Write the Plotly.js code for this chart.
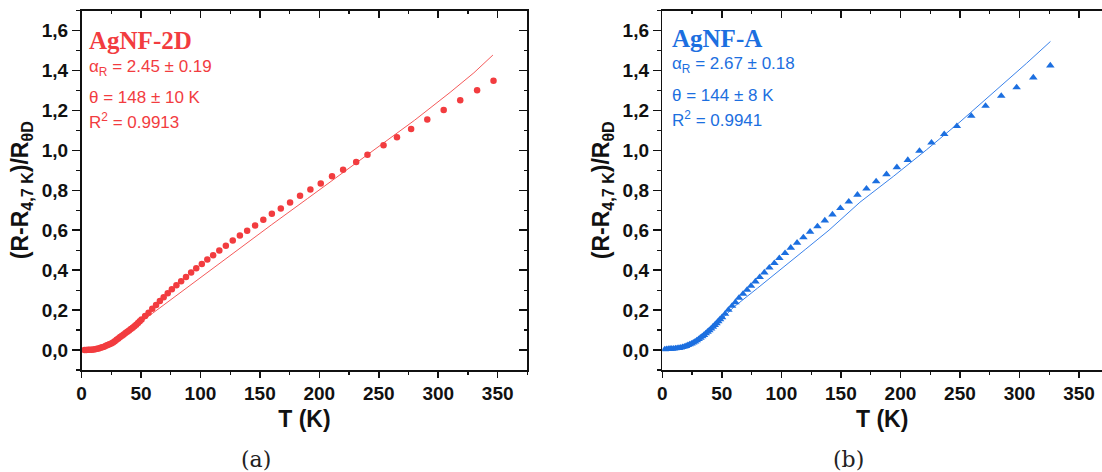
<!DOCTYPE html>
<html>
<head>
<meta charset="utf-8">
<script src="https://cdn.plot.ly/plotly-3.0.1.min.js"></script>
<style>html,body{margin:0;padding:0;background:#fff;}#chart{width:1102px;height:472px;}</style>
</head>
<body>
<div id="chart"></div>
<script>
// ---- Data ----
const redT = [2.5,4,5.5,7,8.5,10,11.5,13,14.5,16,17.5,19,20.5,22,23.5,25,26.5,28,29.5,31,32.5,34,35.5,37,38.5,40,41.5,43,44.5,46,47.5,49,50.5,
  53.5,56.4,59.5,62.7,65.9,69.1,72.5,76,79.8,83.8,87.9,92.2,96.5,101.2,105.8,110.7,115.9,121.4,127.2,133.2,139.3,146,152.9,160.1,167.6,175.4,183.8,192.5,201.2,210.7,220,231,240.5,254,265.3,277.2,290.8,304.6,318.5,332.7,346.5];
const redV = [0.000,0.000,0.001,0.001,0.002,0.003,0.004,0.006,0.008,0.011,0.014,0.017,0.021,0.025,0.029,0.033,0.038,0.044,0.051,0.058,0.065,0.072,0.078,0.085,0.091,0.098,0.105,0.112,0.119,0.127,0.135,0.144,0.153,
  0.171,0.187,0.207,0.226,0.246,0.264,0.284,0.304,0.324,0.344,0.366,0.388,0.410,0.431,0.453,0.475,0.498,0.522,0.548,0.574,0.597,0.624,0.652,0.682,0.709,0.739,0.773,0.804,0.834,0.870,0.903,0.941,0.978,1.025,1.065,1.107,1.154,1.202,1.251,1.301,1.348];
const redFitT = [0,10,20,30,40,46,60,80,100,130,160,190,220,250,280,310,330,346];
const redFitV = [0,0.002,0.015,0.045,0.090,0.122,0.185,0.274,0.363,0.497,0.628,0.758,0.890,1.020,1.150,1.290,1.388,1.477];

const blueT = [2,3.5,5,6.5,8,9.5,11,12.5,14,15.5,17,18.5,20,21.5,23,24.5,26,27.5,29,30.5,32,33.5,35,36.5,38,39.5,41,42.5,44,45.5,47,48.5,
  50.2,52.7,55.5,58.6,61.4,64.4,67.8,71.2,74.5,78.2,81.8,85.7,89.9,94.1,98.3,103.1,107.9,113.2,118.5,124.1,130.3,136.5,142.9,149.6,156.6,163.9,171.5,179.6,188.3,197,206.2,216,226.1,236.8,247.4,259.5,271.5,284.7,297.6,311.6,325.9];
const blueV = [0.003,0.004,0.005,0.006,0.006,0.007,0.008,0.009,0.010,0.012,0.014,0.017,0.020,0.024,0.028,0.032,0.037,0.042,0.048,0.054,0.061,0.068,0.075,0.083,0.091,0.099,0.107,0.116,0.125,0.134,0.144,0.154,
  0.164,0.181,0.201,0.221,0.239,0.261,0.281,0.301,0.321,0.343,0.365,0.388,0.412,0.435,0.460,0.485,0.512,0.537,0.564,0.592,0.619,0.648,0.678,0.710,0.743,0.777,0.808,0.844,0.880,0.915,0.951,0.997,1.038,1.081,1.121,1.172,1.222,1.272,1.315,1.364,1.424];
const blueFitT = [0,10,20,30,40,50,60,80,100,120,140,166,194,222,250,278,306,326];
const blueFitV = [0,0.004,0.018,0.048,0.095,0.155,0.215,0.310,0.405,0.503,0.600,0.740,0.869,1.003,1.142,1.287,1.436,1.545];

const xTickVals = [0,50,100,150,200,250,300,350];
const yTickVals = [0,0.2,0.4,0.6,0.8,1.0,1.2,1.4,1.6];
const yTitle = '(R-R<sub>4,7 K</sub>)/R<sub>θD</sub>';
const xTitle = 'T (K)';
const redLabel = ['AgNF-2D','α<sub>R</sub> = 2.45 ± 0.19','θ = 148 ± 10 K','R<sup>2</sup> = 0.9913'];
const blueLabel = ['AgNF-A','α<sub>R</sub> = 2.67 ± 0.18','θ = 144 ± 8 K','R<sup>2</sup> = 0.9941'];
const captions = ['(a)','(b)'];

// ---- Layout geometry ----
const W = 1102, H = 472;
const px = v => v / W;
const py = v => 1 - v / H;
const RED = '#f23c3f', REDLINE = '#f45a5a';
const BLUE = '#1c6fe0', BLUELINE = '#3a82ea';
const tickFont = {family: 'Liberation Sans, Arial, sans-serif', size: 19, color: '#111', weight: 'bold'};
const titleFont = {family: 'Liberation Sans, Arial, sans-serif', size: 23, color: '#111', weight: 'bold'};

function mainX(domain, range) {
  return {domain, range, showgrid: false, zeroline: false, showline: true, linecolor: '#111', linewidth: 1.5,
    ticks: 'outside', ticklen: 6, tickwidth: 1.5, tickcolor: '#111', tickvals: xTickVals, ticktext: xTickVals.map(String),
    tickfont: tickFont, minor: {dtick: 25, tick0: 0, ticks: 'outside', ticklen: 3, tickwidth: 1.2, tickcolor: '#111'},
    title: {text: xTitle, font: titleFont, standoff: 7}};
}
function mainY(domain) {
  return {domain, range: [-0.1, 1.7], showgrid: false, zeroline: false, showline: true, linecolor: '#111', linewidth: 1.5,
    ticks: 'outside', ticklen: 8, tickwidth: 1.5, tickcolor: '#111', tickvals: yTickVals, tickformat: '.1f',
    tickfont: tickFont, minor: {dtick: 0.1, tick0: 0, ticks: 'outside', ticklen: 4, tickwidth: 1.2, tickcolor: '#111'},
    title: {text: yTitle, font: titleFont, standoff: 6}};
}
function topX(over, domain, range, anchor) {
  return {overlaying: over, side: 'top', anchor, domain, range, showgrid: false, zeroline: false, showline: true,
    linecolor: '#111', linewidth: 1.5, ticks: 'inside', ticklen: 7, tickwidth: 1.5, tickcolor: '#111',
    tickvals: xTickVals, showticklabels: false,
    minor: {dtick: 25, tick0: 0, ticks: 'inside', ticklen: 3, tickwidth: 1.2, tickcolor: '#111'}};
}
function rightY(over, domain, anchor) {
  return {overlaying: over, side: 'right', anchor, domain, range: [-0.1, 1.7], showgrid: false, zeroline: false,
    showline: true, linecolor: '#111', linewidth: 1.5, ticks: 'inside', ticklen: 8, tickwidth: 1.5, tickcolor: '#111',
    tickvals: yTickVals, showticklabels: false,
    minor: {dtick: 0.1, tick0: 0, ticks: 'inside', ticklen: 3, tickwidth: 1.2, tickcolor: '#111'}};
}

const yDom = [py(370), py(10.5)];
const xDomL = [px(81.5), px(527.4)];
const xDomR = [px(662.3), 1];
const rangeL = [0, 375];
const rangeR = [0, (W - 662.3) / 1.1906];

const traces = [
  {x: redFitT, y: redFitV, xaxis: 'x', yaxis: 'y', mode: 'lines', line: {color: REDLINE, width: 1}, hoverinfo: 'skip', showlegend: false},
  {x: redT, y: redV, xaxis: 'x', yaxis: 'y', mode: 'markers', marker: {symbol: 'circle', size: 6.5, color: RED}, showlegend: false},
  {x: blueFitT, y: blueFitV, xaxis: 'x2', yaxis: 'y2', mode: 'lines', line: {color: BLUELINE, width: 1}, hoverinfo: 'skip', showlegend: false},
  {x: blueT, y: blueV, xaxis: 'x2', yaxis: 'y2', mode: 'markers', marker: {symbol: 'triangle-up', size: 7.5, color: BLUE}, showlegend: false},
  {x: [null], y: [null], xaxis: 'x3', yaxis: 'y3', mode: 'markers', showlegend: false, hoverinfo: 'skip'},
  {x: [null], y: [null], xaxis: 'x4', yaxis: 'y2', mode: 'markers', showlegend: false, hoverinfo: 'skip'}
];

function labelAnns(lines, color, x0, ys) {
  const out = [];
  lines.forEach((t, i) => {
    out.push({xref: 'paper', yref: 'paper', x: px(x0), y: py(ys[i]), xanchor: 'left', yanchor: 'middle',
      text: t, showarrow: false,
      font: i === 0 ? {family: 'Liberation Serif, DejaVu Serif, serif', size: 25, color, weight: 'bold'}
                    : {family: 'Liberation Sans, Arial, sans-serif', size: 17, color}});
  });
  return out;
}

const annotations = [
  ...labelAnns(redLabel, RED, 87, [40, 68, 97, 121.5]),
  ...labelAnns(blueLabel, BLUE, 670, [38, 65, 95, 119.5]),
  {xref: 'paper', yref: 'paper', x: px(256), y: py(459), xanchor: 'center', yanchor: 'middle', text: captions[0], showarrow: false,
   font: {family: 'DejaVu Serif, Liberation Serif, serif', size: 22, color: '#222'}},
  {xref: 'paper', yref: 'paper', x: px(848), y: py(459), xanchor: 'center', yanchor: 'middle', text: captions[1], showarrow: false,
   font: {family: 'DejaVu Serif, Liberation Serif, serif', size: 22, color: '#222'}}
];

const layout = {
  width: W, height: H, margin: {l: 0, r: 0, t: 0, b: 0}, paper_bgcolor: '#fff', plot_bgcolor: '#fff',
  separators: ',.', showlegend: false,
  xaxis: Object.assign(mainX(xDomL, rangeL), {anchor: 'y'}),
  yaxis: Object.assign(mainY(yDom), {anchor: 'x'}),
  xaxis2: Object.assign(mainX(xDomR, rangeR), {anchor: 'y2'}),
  yaxis2: Object.assign(mainY(yDom), {anchor: 'x2'}),
  xaxis3: topX('x', xDomL, rangeL, 'y3'),
  yaxis3: rightY('y', yDom, 'x3'),
  xaxis4: topX('x2', xDomR, rangeR, 'y2'),
  annotations
};

Plotly.newPlot('chart', traces, layout, {staticPlot: true, displayModeBar: false});
</script>
</body>
</html>
